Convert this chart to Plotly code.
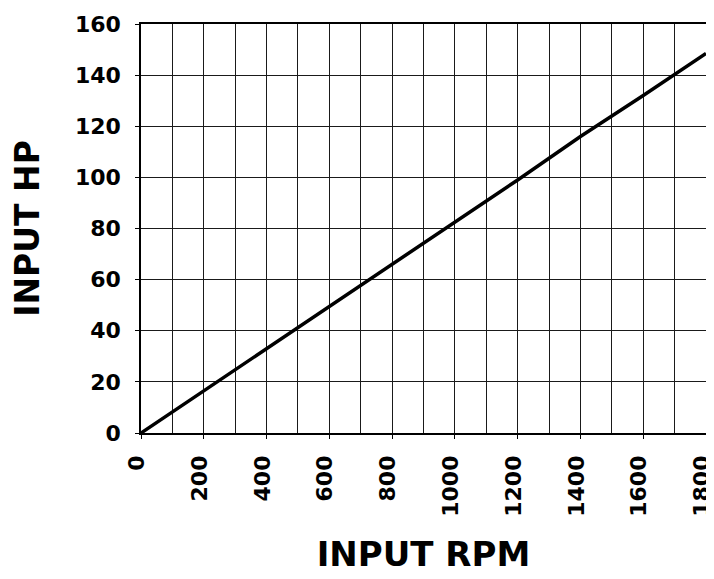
import plotly.graph_objects as go

rpm = [0, 200, 400, 600, 800, 1000, 1200, 1400, 1600, 1800]
hp = [0, 16.5, 33, 49.5, 66, 82.5, 99, 116, 132, 148.5]

x_ticks = [0, 200, 400, 600, 800, 1000, 1200, 1400, 1600, 1800]
y_ticks = [0, 20, 40, 60, 80, 100, 120, 140, 160]

FONT = "DejaVu Sans, Liberation Sans, Arial, sans-serif"

fig = go.Figure()
fig.add_trace(go.Scatter(x=rpm, y=hp, mode="lines",
                         line=dict(color="black", width=3.5), showlegend=False))

# page body has an 8px margin, so the figure is sized to fill the rest of the window
fig.update_layout(
    width=706, height=571,
    margin=dict(l=133, r=8, t=16, b=146),
    paper_bgcolor="white", plot_bgcolor="white",
    font=dict(family=FONT, color="black"),
)
fig.update_xaxes(
    range=[0, 1800], tickvals=x_ticks, ticktext=[f"<b>{v}</b>" for v in x_ticks],
    tickangle=-90, tickfont=dict(size=22), ticklabeloverflow="allow",
    ticklabelstandoff=8, ticklabelshift=-4,
    showgrid=False,
    minor=dict(dtick=100, tick0=0, showgrid=True, gridcolor="#1a1a1a", gridwidth=1.3),
    showline=True, linecolor="black", linewidth=1.5, mirror=True,
    ticks="outside", ticklen=4, tickcolor="black",
    title=dict(text="<b>INPUT RPM</b>", font=dict(size=34), standoff=26),
    zeroline=False, automargin=False,
)
fig.update_yaxes(
    range=[0, 160], tickvals=y_ticks, ticktext=[f"<b>{v}</b>" for v in y_ticks],
    tickfont=dict(size=22), ticklabelstandoff=10,
    showgrid=True, gridcolor="#1a1a1a", gridwidth=1.3,
    showline=True, linecolor="black", linewidth=1.5, mirror=True,
    ticks="outside", ticklen=4, tickcolor="black",
    title=dict(text="<b>INPUT HP</b>", font=dict(size=33), standoff=46),
    zeroline=False, automargin=False,
)

fig.write_html("out.html")
